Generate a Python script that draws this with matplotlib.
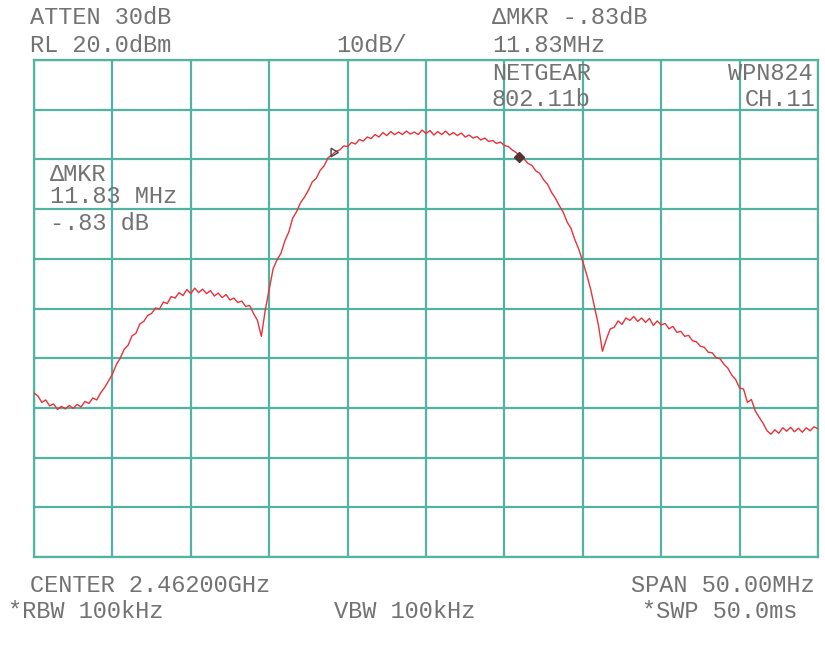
"""Spectrum analyzer plot of a NETGEAR WPN824 802.11b signal, channel 11."""

import matplotlib

matplotlib.use("Agg")

import matplotlib.pyplot as plt  # noqa: E402
import numpy as np  # noqa: E402

# Analyzer settings
CENTER_MHZ = 2462.0
SPAN_MHZ = 50.0
REF_LEVEL_DBM = 20.0
DB_PER_DIV = 10.0
N_DIV = 10

# Trace, one reading every 0.25 MHz from CENTER-25 to CENTER+25 (dBm)
trace_dbm = [
    -47.0, -47.6, -48.9, -48.4, -49.6, -49.2, -50.3, -49.7, -50.2, -49.5,
    -50.1, -49.3, -49.8, -48.7, -49.1, -48.0, -48.4, -47.0, -45.9, -44.6,
    -43.2, -41.3, -40.0, -38.2, -37.4, -35.5, -35.0, -33.1, -32.6, -31.4,
    -31.0, -29.9, -30.1, -28.7, -29.0, -27.6, -27.9, -26.8, -27.4, -26.2,
    -27.0, -25.9, -26.8, -26.1, -27.0, -26.4, -27.5, -26.9, -27.8, -27.2,
    -28.3, -27.9, -28.8, -28.5, -29.6, -29.4, -31.0, -32.4, -35.6, -30.3,
    -26.2, -22.0, -20.2, -18.9, -16.4, -14.6, -11.8, -10.5, -8.7, -7.6,
    -6.2, -4.5, -3.8, -2.2, -1.3, 0.3, 0.9, 1.6, 1.9, 2.7,
    2.6, 3.4, 3.1, 4.0, 3.7, 4.5, 4.2, 5.0, 4.5, 5.4,
    4.8, 5.6, 5.0, 5.5, 5.0, 5.7, 5.1, 5.5, 5.0, 5.9,
    5.2, 5.8, 4.9, 5.6, 5.0, 5.7, 4.9, 5.4, 4.8, 5.3,
    4.5, 4.9, 4.3, 4.6, 3.9, 4.3, 3.6, 3.8, 3.2, 3.5,
    2.8, 2.6, 1.9, 1.4, 0.6, 0.1, -0.8, -1.2, -2.3, -2.8,
    -4.1, -5.0, -6.6, -7.8, -9.3, -10.6, -12.6, -13.9, -16.2, -18.1,
    -20.6, -23.2, -26.1, -29.8, -33.4, -38.6, -36.2, -34.1, -33.8, -32.5,
    -33.2, -31.9, -32.4, -31.6, -32.6, -31.9, -32.8, -32.0, -33.4, -32.5,
    -33.3, -33.0, -34.1, -33.6, -34.8, -34.6, -35.6, -35.4, -36.5, -36.7,
    -37.6, -37.8, -38.8, -38.9, -39.9, -40.1, -41.2, -42.0, -43.4, -44.3,
    -46.0, -46.2, -48.9, -48.3, -50.6, -51.9, -53.1, -54.6, -55.3, -54.4,
    -55.1, -54.0, -54.7, -53.9, -54.8, -54.1, -54.9, -54.0, -54.6, -53.8,
    -54.2,
]
freq_mhz = np.linspace(CENTER_MHZ - SPAN_MHZ / 2, CENTER_MHZ + SPAN_MHZ / 2,
                       len(trace_dbm))

# Delta marker pair (reference triangle and active diamond)
marker_ref_mhz = 2456.1
marker_ref_dbm = 1.5
marker_act_mhz = 2467.9
marker_act_dbm = 0.5

# Screen annotations: (text, x px, y px, horizontal alignment)
header_texts = [
    ("ATTEN 30dB", 30, 18, "left"),
    ("RL 20.0dBm", 30, 45, "left"),
    ("10dB/", 372, 45, "center"),
    ("\u0394MKR -.83dB", 492, 18, "left"),
    ("11.83MHz", 492, 45, "left"),
    ("NETGEAR", 492, 73, "left"),
    ("WPN824", 813, 73, "right"),
    ("802.11b", 492, 99, "left"),
    ("CH.11", 815, 99, "right"),
]
marker_texts = [
    ("\u0394MKR", 50, 175, "left"),
    ("11.83 MHz", 50, 197, "left"),
    ("-.83 dB", 50, 223, "left"),
]
footer_texts = [
    ("CENTER 2.46200GHz", 30, 585, "left"),
    ("SPAN 50.00MHz", 815, 585, "right"),
    ("*RBW 100kHz", 8, 611, "left"),
    ("VBW 100kHz", 405, 611, "center"),
    ("*SWP 50.0ms", 797, 611, "right"),
]

GRID_COLOR = "#52b3a0"
TRACE_COLOR = "#e8323c"
TEXT_COLOR = "#727272"
W, H = 825, 650

fig = plt.figure(figsize=(W / 100, H / 100), dpi=100)
ax = fig.add_axes([34 / W, 1 - 557 / H, (818 - 34) / W, (557 - 60) / H])

f_lo = CENTER_MHZ - SPAN_MHZ / 2
f_hi = CENTER_MHZ + SPAN_MHZ / 2
y_hi = REF_LEVEL_DBM
y_lo = REF_LEVEL_DBM - N_DIV * DB_PER_DIV
ax.set_xlim(f_lo, f_hi)
ax.set_ylim(y_lo, y_hi)
ax.set_xticks(np.linspace(f_lo, f_hi, N_DIV + 1))
ax.set_yticks(np.linspace(y_lo, y_hi, N_DIV + 1))
ax.tick_params(length=0, labelbottom=False, labelleft=False)
ax.grid(True, color=GRID_COLOR, linewidth=1.6)
for spine in ax.spines.values():
    spine.set_color(GRID_COLOR)
    spine.set_linewidth(1.6)

ax.plot(freq_mhz, trace_dbm, color=TRACE_COLOR, linewidth=1.0, zorder=3)
ax.plot(marker_ref_mhz, marker_ref_dbm, marker=(3, 0, 30), markersize=7,
        markerfacecolor="none", markeredgecolor="#444444", zorder=4)
ax.plot(marker_act_mhz, marker_act_dbm, marker="D", markersize=5,
        color="#553333", zorder=4)

for text, x, y, ha in header_texts + marker_texts + footer_texts:
    fig.text(x / W, 1 - y / H, text, ha=ha, va="center",
             family="Liberation Mono", fontsize=17, color=TEXT_COLOR,
             zorder=5)

fig.savefig("out.png", dpi=100)
